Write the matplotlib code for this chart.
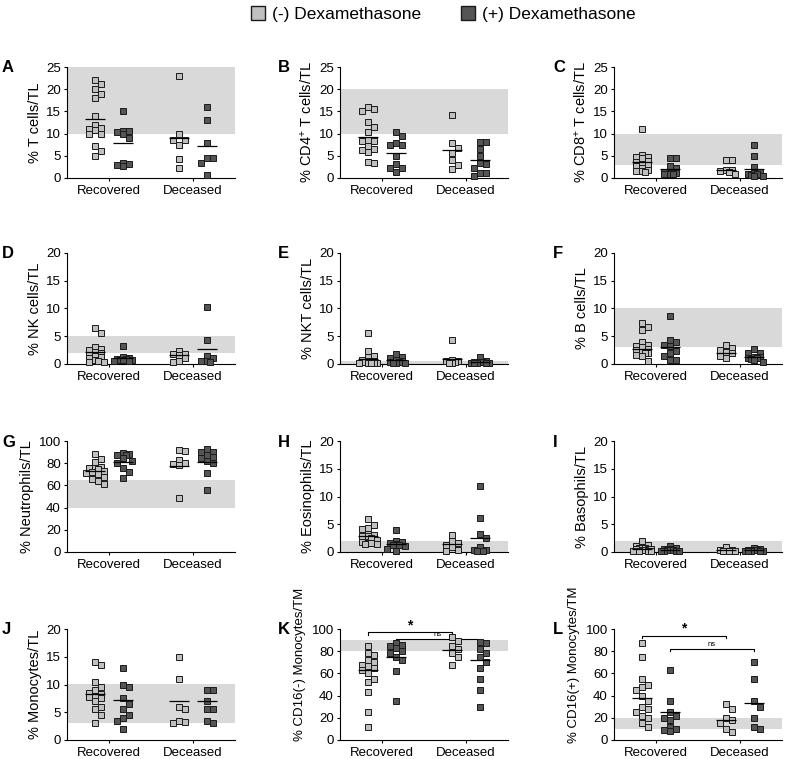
import numpy as np
import matplotlib.pyplot as plt

plt.rcParams['font.family'] = ['Liberation Sans', 'DejaVu Sans']
plt.rcParams['mathtext.fontset'] = 'custom'
plt.rcParams['mathtext.rm'] = 'Liberation Sans'
plt.rcParams['mathtext.it'] = 'Liberation Sans:italic'

# group order: Recovered (-), Recovered (+), Deceased (-), Deceased (+)
t_cells = ([22, 21.2, 20, 19, 18, 14, 12, 11.3, 11, 10.8, 9.8, 9.8, 7.3, 6, 5],
           [15.2, 10.5, 10.5, 10.3, 9.8, 9.0, 3.4, 3.2, 3.0, 2.6],
           [23, 9.8, 8.5, 8.5, 7.4, 4.3, 2.2],
           [16, 13, 7.9, 4.6, 4.6, 3.4, 0.7])
t_cells_mean = [13.3, 7.9, 9.0, 7.3]

cd4 = ([16, 15.5, 15, 12.6, 11.5, 10.3, 8.5, 8.4, 8.4, 7.1, 6.5, 6.2, 5.9, 3.6, 3.3],
       [10.4, 9.5, 7.8, 7.5, 7.5, 5.0, 3.1, 2.3, 2.3, 1.4],
       [14.2, 7.8, 6.8, 5.7, 4.1, 2.9, 2.0],
       [8.0, 8.0, 6.5, 5.0, 3.4, 3.2, 2.3, 1.2, 1.2, 0.5])
cd4_mean = [9.3, 5.7, 6.2, 4.0]

cd8 = ([11, 5.2, 4.8, 4.8, 4.6, 3.8, 3.5, 3.2, 2.9, 2.6, 2.2, 1.9, 1.6, 1.5, 1.4],
       [4.6, 4.5, 2.6, 2.3, 1.4, 1.2, 1.1, 1.0, 0.9, 0.8],
       [4.1, 4.1, 1.8, 1.7, 1.6, 1.4, 0.9],
       [7.5, 4.9, 2.5, 1.4, 1.1, 1.0, 0.9, 0.7, 0.5, 0.4])
cd8_mean = [3.6, 2.0, 1.9, 2.0]

nk = ([6.5, 5.5, 3.0, 2.7, 2.6, 2.2, 1.9, 1.7, 1.4, 1.2, 1.0, 0.8, 0.6, 0.4, 0.3],
      [3.2, 1.2, 1.0, 0.9, 0.9, 0.8, 0.8, 0.7, 0.6, 0.5],
      [2.4, 1.8, 1.8, 1.6, 1.1, 0.5, 0.4],
      [10.2, 4.3, 1.5, 1.0, 0.6, 0.6, 0.4])
nk_mean = [2.2, 1.1, 1.6, 2.7]

nkt = ([5.5, 2.3, 1.4, 1.2, 0.8, 0.6, 0.5, 0.4, 0.3, 0.3, 0.2, 0.2, 0.2, 0.1, 0.1],
       [1.8, 1.3, 1.0, 0.7, 0.5, 0.4, 0.3, 0.2, 0.2, 0.1],
       [4.4, 0.7, 0.6, 0.5, 0.3, 0.2, 0.1],
       [1.2, 0.5, 0.4, 0.3, 0.3, 0.2, 0.2, 0.1, 0.1, 0.1])
nkt_mean = [0.9, 0.65, 0.95, 0.35]

b_cells = ([7.4, 6.6, 6.2, 4.0, 3.4, 3.3, 3.0, 2.7, 2.5, 2.1, 2.0, 2.0, 1.6, 1.5, 0.5],
           [8.7, 4.4, 4.0, 3.5, 3.3, 2.3, 2.0, 1.5, 0.7, 0.7],
           [3.4, 2.8, 2.5, 2.1, 2.0, 1.5, 1.1],
           [2.7, 2.0, 2.0, 1.3, 1.3, 1.0, 1.0, 0.9, 0.7, 0.4])
b_cells_mean = [2.7, 3.0, 2.0, 1.3]

neutro = ([88, 84, 81, 77, 76, 76, 75, 73, 72, 71, 70, 68, 66, 64, 61],
          [89, 88, 87, 87, 85, 82, 80, 76, 72, 67],
          [92, 91, 83, 80, 79, 78, 49],
          [93, 90, 90, 87, 86, 85, 82, 80, 71, 56])
neutro_mean = [73.3, 80.7, 77.2, 81]

eosino = ([5.9, 4.9, 4.4, 4.2, 3.3, 3.1, 2.9, 2.8, 2.6, 2.2, 1.8, 1.7, 1.6, 1.4, 1.4],
          [3.9, 2.0, 1.8, 1.6, 1.4, 1.3, 1.2, 1.0, 0.6, 0.1],
          [3.0, 1.9, 1.6, 1.2, 0.9, 0.3, 0.2],
          [11.9, 6.2, 3.2, 2.5, 0.9, 0.4, 0.3, 0.2, 0.1, 0.1])
eosino_mean = [2.8, 1.5, 1.4, 2.6]

baso = ([1.9, 1.2, 1.0, 0.9, 0.8, 0.7, 0.6, 0.6, 0.5, 0.4, 0.3, 0.2, 0.2, 0.1, 0.1],
        [1.1, 0.7, 0.6, 0.5, 0.4, 0.3, 0.2, 0.2, 0.1, 0.1],
        [0.9, 0.4, 0.3, 0.2, 0.2, 0.1, 0.1],
        [0.8, 0.5, 0.4, 0.3, 0.3, 0.2, 0.2, 0.1, 0.1, 0.1])
baso_mean = [0.6, 0.4, 0.3, 0.3]

mono = ([14, 13.5, 10.5, 9.5, 9, 8.5, 8.3, 8, 7.8, 7.5, 7, 6, 5.5, 4.5, 3],
        [13, 10, 9.5, 7.5, 6.5, 5.5, 4.5, 4, 3.5, 2],
        [15, 11, 6, 5.5, 3.5, 3.2, 3],
        [9, 9, 7, 5.5, 5.5, 3.5, 3])
mono_mean = [8.2, 7.2, 7.0, 7.0]

cd16neg = ([85, 78, 77, 72, 70, 68, 67, 65, 63, 60, 55, 52, 43, 25, 12],
           [87, 86, 85, 83, 80, 78, 75, 72, 62, 35],
           [93, 89, 85, 82, 78, 75, 68],
           [88, 87, 82, 78, 75, 70, 65, 55, 45, 30])
cd16neg_mean = [63, 75, 81, 72]

cd16pos = ([87, 75, 55, 50, 48, 45, 40, 35, 30, 28, 25, 22, 20, 15, 12],
           [63, 35, 25, 22, 20, 18, 12, 10, 9, 8],
           [32, 28, 20, 18, 15, 10, 7],
           [70, 55, 35, 30, 20, 12, 10])
cd16pos_mean = [38, 25, 18, 33]

group_x = [1, 2, 4, 5]
categories = ['Recovered', 'Deceased']
legend_labels = ['(-) Dexamethasone', '(+) Dexamethasone']
light = '#c0c0c0'
dark = '#555555'
band_color = '#d9d9d9'

panels = [
    ('A', '% T cells/TL', t_cells, t_cells_mean, 25, 5, (10, 25)),
    ('B', '% CD4$^{+}$ T cells/TL', cd4, cd4_mean, 25, 5, (10, 20)),
    ('C', '% CD8$^{+}$ T cells/TL', cd8, cd8_mean, 25, 5, (3, 10)),
    ('D', '% NK cells/TL', nk, nk_mean, 20, 5, (2, 5)),
    ('E', '% NKT cells/TL', nkt, nkt_mean, 20, 5, (0, 0.6)),
    ('F', '% B cells/TL', b_cells, b_cells_mean, 20, 5, (3, 10)),
    ('G', '% Neutrophils/TL', neutro, neutro_mean, 100, 20, (40, 65)),
    ('H', '% Eosinophils/TL', eosino, eosino_mean, 20, 5, (0, 2)),
    ('I', '% Basophils/TL', baso, baso_mean, 20, 5, (0, 2)),
    ('J', '% Monocytes/TL', mono, mono_mean, 20, 5, (3, 10)),
    ('K', '% CD16(-) Monocytes/TM', cd16neg, cd16neg_mean, 100, 20, (80, 90)),
    ('L', '% CD16(+) Monocytes/TM', cd16pos, cd16pos_mean, 100, 20, (10, 20)),
]

# significance brackets: (x1, x2, y, text)
brackets = {
    'K': [(1, 4, 97, '*'), (2, 5, 91, 'ns')],
    'L': [(1, 4, 94, '*'), (2, 5, 82, 'ns')],
}

W, H = 787, 759
fig = plt.figure(figsize=(W / 100, H / 100), dpi=100)

col_left = [67, 340, 614]
row_top = [67, 253, 441, 629]
ax_w, ax_h = 168, 111
letter_x = [2, 278, 553]


def swarm(vals, ppu_x, ppu_y, size=6.0, max_px=10.0):
    # beeswarm with a limited width: overlap allowed when no free slot
    steps = [0.0]
    k = 1
    while k * size / 2 <= max_px:
        steps += [k * size / 2, -k * size / 2]
        k += 1
    placed, offs = [], []
    for v in vals:
        y = v * ppu_y
        best, best_d = 0.0, -1
        for s in steps:
            d = min([max(abs(s - px), abs(y - py)) for px, py in placed] + [99])
            if d >= size:
                best = s
                break
            if d > best_d + 0.5:
                best, best_d = s, d
        placed.append((best, y))
        offs.append(best / ppu_x)
    return offs


for i, (letter, ylab, data, means, ymax, ystep, band) in enumerate(panels):
    r, c = divmod(i, 3)
    left = col_left[c] / W
    bottom = 1 - (row_top[r] + ax_h) / H
    ax = fig.add_axes([left, bottom, ax_w / W, ax_h / H])
    ax.set_xlim(0, 6)
    ax.set_ylim(0, ymax)
    ax.axhspan(band[0], band[1], color=band_color, lw=0, zorder=0)

    ppu_x = ax_w / 6
    ppu_y = ax_h / ymax
    for j, vals in enumerate(data):
        offs = swarm(vals, ppu_x, ppu_y)
        xs = group_x[j] + np.array(offs)
        ax.plot(xs, vals, 's', ms=4.0, mfc=light if j % 2 == 0 else dark,
                mec='#1a1a1a', mew=0.7, clip_on=False, zorder=3)
        ax.hlines(means[j], group_x[j] - 0.36, group_x[j] + 0.36,
                  color='black', lw=0.9, zorder=4)

    for x1, x2, y, txt in brackets.get(letter, []):
        h = ymax * 0.02
        ax.plot([x1, x1, x2, x2], [y - h, y, y, y - h], color='black', lw=0.8,
                clip_on=False)
        if txt == '*':
            ax.text((x1 + x2) / 2, y + 0.3, txt, ha='center', va='bottom',
                    fontsize=10, fontweight='bold')
        else:
            ax.text((x1 + x2) / 2, y + 1.0, txt, ha='center', va='bottom',
                    fontsize=5.5)

    ax.set_yticks(np.arange(0, ymax + 0.1, ystep))
    ax.set_xticks([1.5, 4.5])
    ax.set_xticklabels(categories)
    ax.tick_params(axis='both', labelsize=9.5, width=0.8, length=2.5, pad=2)
    ax.tick_params(axis='x', length=2, pad=3)
    for side in ['top', 'right']:
        ax.spines[side].set_visible(False)
    for side in ['left', 'bottom']:
        ax.spines[side].set_linewidth(0.8)
    if letter in ('K', 'L'):
        ax.set_ylabel(ylab, fontsize=9.5, labelpad=3)
        ax.yaxis.set_label_coords(-0.2, 0.68)
    else:
        ax.set_ylabel(ylab, fontsize=10.5, labelpad=3)

    fig.text(letter_x[c] / W, 1 - (row_top[r] + 1) / H, letter, fontsize=12,
             fontweight='bold', ha='left', va='center')

# legend
handles = [plt.Line2D([], [], ls='', marker='s', ms=10, mfc=col, mec='#1a1a1a', mew=1)
           for col in [light, dark]]
fig.legend(handles, legend_labels, loc='upper center', bbox_to_anchor=(0.562, 1.012),
           ncol=2, frameon=False, fontsize=12.5, handletextpad=0.3, columnspacing=2.2,
           handlelength=1.0)

fig.savefig('out.png', dpi=100)
